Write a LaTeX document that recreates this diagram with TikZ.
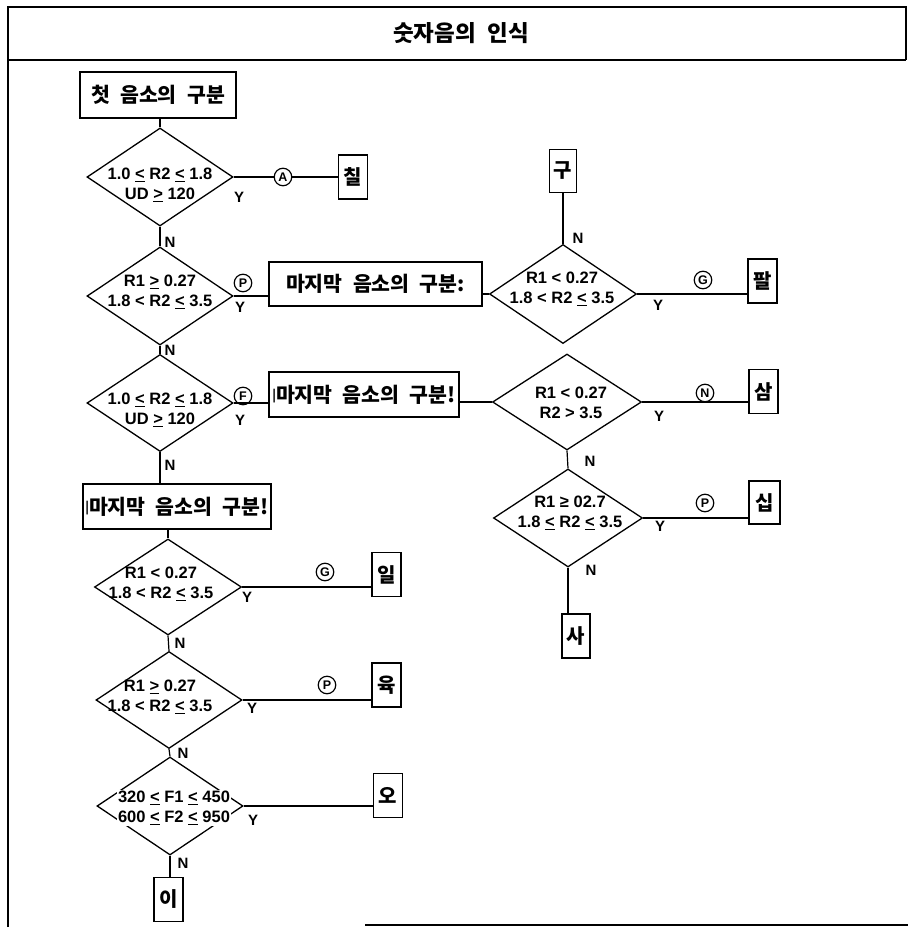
\documentclass[tikz,border=0pt]{standalone}
\usepackage{fontspec}
\setmainfont{Liberation Sans}
\newfontfamily\kr[WordSpace=2.2]{Noto Sans CJK KR}
\usetikzlibrary{shapes.geometric}
\newcommand{\myle}{\leavevmode\rlap{\rule[-0.17em]{0.584em}{0.08em}}<}
\newcommand{\myge}{\leavevmode\rlap{\rule[-0.17em]{0.584em}{0.08em}}>}
\newcommand{\kbar}{{\fontsize{12}{12}\selectfont\raisebox{0.25em}{|}}}
\tikzset{
  frame/.style={line width=1.6pt},
  link/.style={line width=1.2pt},
  dia/.style={draw, diamond, line width=1.3pt, inner sep=0pt, minimum width=146pt, minimum height=98pt},
  cond/.style={font=\bfseries\fontsize{16.5}{20}\selectfont, align=center, inner sep=0pt},
  kbox/.style={draw, line width=1.2pt, inner sep=0pt, minimum height=45pt, font={\kr\bfseries\fontsize{20.5}{22}\selectfont}},
  lbox/.style={draw, line width=1.2pt, inner sep=0pt, minimum width=29pt, minimum height=44pt, font={\kr\bfseries\fontsize{20}{22}\selectfont}},
  circ/.style={circle, draw, line width=1.2pt, inner sep=0pt, minimum size=17.5pt, font=\bfseries\fontsize{12.5}{12.5}\selectfont},
  yn/.style={inner sep=0pt, font=\bfseries\fontsize{15}{15}\selectfont},
  ttl/.style={inner sep=0pt, font={\kr\bfseries\fontsize{22.5}{26}\selectfont}}
}
\begin{document}
\begin{tikzpicture}[x=1pt, y=-1pt]
\useasboundingbox (0,0) rectangle (908,929);
% frame
\draw[frame] (8,927) -- (8,7) -- (906,7) -- (906,60);
\draw[frame] (8,60) -- (906,60);
\draw[frame] (365,925) -- (908,925);
\node[ttl] (title) at (461,33) {숫자음의 인식};

% left column
\node[kbox, minimum width=156pt, minimum height=46pt] (start) at (158,95) {첫 음소의 구분};
\node[dia] (d1) at (160,177) {};
\node[cond] (t1) at (160,185) {1.0 \myle{} R2 \myle{} 1.8\\UD \myge{} 120};
\node[circ] (cA) at (283,177) {A};
\node[lbox] (b7) at (353,177) {칠};
\node[yn] (y1) at (239,197) {Y};
\node[yn] (n1) at (170,242) {N};

\node[dia] (d2) at (160,296) {};
\node[cond] (t2) at (160,292) {R1 \myge{} 0.27\\1.8 < R2 \myle{} 3.5};
\node[circ] (cP1) at (243,283) {P};
\node[yn] (y2) at (240,307) {Y};
\node[yn] (n2) at (170,350) {N};
\node[kbox, minimum width=213pt, minimum height=44pt] (m1) at (375.5,284) {마지막 음소의 구분:};

\node[dia, minimum height=97pt] (d3) at (160,403) {};
\node[cond] (t3) at (160,410) {1.0 \myle{} R2 \myle{} 1.8\\UD \myge{} 120};
\node[circ] (cF) at (243,396) {F};
\node[yn] (y3) at (240,420) {Y};
\node[yn] (n3) at (170,465) {N};
\node[kbox, minimum width=190pt] (m2) at (364,394.5) {\kbar{}마지막 음소의 구분!};
\node[kbox, minimum width=188pt] (m3) at (177,506.5) {\kbar{}마지막 음소의 구분!};

\node[dia, minimum width=147pt, minimum height=96pt] (dL4) at (168,587) {};
\node[cond] (tL4) at (161,584) {R1 < 0.27\\1.8 < R2 \myle{} 3.5};
\node[circ] (cG2) at (325,572) {G};
\node[lbox] (il) at (386.5,574.5) {일};
\node[yn] (y4) at (247,597) {Y};
\node[yn] (n4) at (180,643) {N};

\node[dia, minimum height=97pt] (dL5) at (169,700) {};
\node[cond] (tL5) at (160,697) {R1 \myge{} 0.27\\1.8 < R2 \myle{} 3.5};
\node[circ] (cP3) at (327,685) {P};
\node[lbox] (yuk) at (386.5,685) {육};
\node[yn] (y5) at (252,708) {Y};
\node[yn] (n5) at (183,753) {N};

\node[dia] (dL6) at (170,806) {};
\node[cond, fill=white, inner sep=1pt] (tL6) at (174,808) {320 \myle{} F1 \myle{} 450\\600 \myle{} F2 \myle{} 950};
\node[lbox] (o) at (388,795.5) {오};
\node[yn] (y6) at (253,820) {Y};
\node[yn] (n6) at (183,863) {N};
\node[lbox] (ibox) at (168.5,899.5) {이};

% right column
\node[lbox, minimum width=27pt, minimum height=43pt] (gu) at (563,171) {구};
\node[dia, minimum width=147pt, minimum height=99pt] (dR1) at (563,294) {};
\node[cond] (tR1) at (562,289) {R1 < 0.27\\1.8 < R2 \myle{} 3.5};
\node[yn] (nR1) at (578,238) {N};
\node[yn] (yR1) at (658,305) {Y};
\node[circ] (cG1) at (703,280) {G};
\node[lbox] (pal) at (762.5,281) {팔};

\node[dia, minimum width=149pt, minimum height=96pt] (dR2) at (567,402) {};
\node[cond] (tR2) at (571,403) {R1 < 0.27\\R2 > 3.5};
\node[circ] (cN) at (705,393) {N};
\node[yn] (yR2) at (659,416) {Y};
\node[yn] (nR2) at (590,461) {N};
\node[lbox] (sam) at (763.5,391.5) {삼};

\node[dia, minimum width=149pt] (dR3) at (568,518) {};
\node[cond] (tR3) at (570,513) {R1 ≥ 02.7\\1.8 \myle{} R2 \myle{} 3.5};
\node[circ] (cP2) at (705,503) {P};
\node[yn] (yR3) at (660,526) {Y};
\node[yn] (nR3) at (591,570) {N};
\node[lbox, minimum width=31pt, minimum height=43pt] (sip) at (764.5,502.5) {십};
\node[lbox, minimum width=28pt] (sa) at (576,636) {사};

% connectors
\draw[link] (start.south -| d1.north) -- (d1.north);
\draw[link] (d1.east) -- (cA) -- (b7);
\draw[link] (d1.south) -- (d2.north);
\draw[link] (d2.east) -- (d2.east -| m1.west);
\draw[link] (m1.east |- dR1.west) -- (dR1.west);
\draw[link] (gu.south) -- (dR1.north);
\draw[link] (dR1.east) -- (dR1.east -| pal.west);
\draw[link] (d2.south) -- (d3.north);
\draw[link] (d3.east) -- (d3.east -| m2.west);
\draw[link] (m2.east |- dR2.west) -- (dR2.west);
\draw[link] (dR2.east) -- (dR2.east -| sam.west);
\draw[link] (dR2.south) -- (dR3.north);
\draw[link] (dR3.east) -- (dR3.east -| sip.west);
\draw[link] (dR3.south) -- (dR3.south |- sa.north);
\draw[link] (d3.south) -- (d3.south |- m3.north);
\draw[link] (m3.south -| dL4.north) -- (dL4.north);
\draw[link] (dL4.east) -- (dL4.east -| il.west);
\draw[link] (dL4.south) -- (dL5.north);
\draw[link] (dL5.east) -- (dL5.east -| yuk.west);
\draw[link] (dL5.south) -- (dL6.north);
\draw[link] (dL6.east) -- (dL6.east -| o.west);
\draw[link] (dL6.south) -- (dL6.south |- ibox.north);
\end{tikzpicture}
\end{document}
